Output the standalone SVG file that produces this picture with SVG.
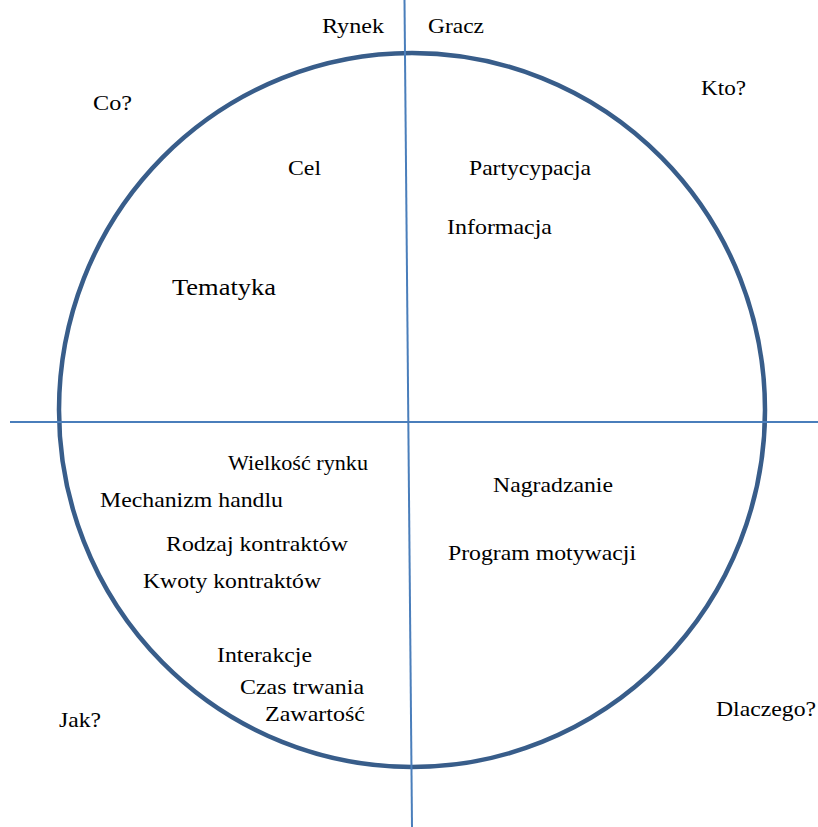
<svg xmlns="http://www.w3.org/2000/svg" width="818" height="827" viewBox="0 0 818 827">
<style>
  text { font-family: 'Liberation Serif', 'DejaVu Serif', 'Times New Roman', Times, serif; font-size: 21px; fill: #000; }
  .big { font-size: 24px; }
  .axis { stroke: #4a7ebb; stroke-width: 2; fill: none; }
  .ring { stroke: #385d8a; stroke-width: 4.5; fill: none; }
</style>
<rect width="818" height="827" fill="#fff"/>
<g id="circle"><ellipse class="ring" cx="412" cy="410" rx="353" ry="357"/></g>
<g id="connectors">
  <line class="axis" x1="404.5" y1="0" x2="412" y2="827"/>
  <line class="axis" x1="10" y1="422" x2="818" y2="422"/>
</g>
<g id="labels-outer">
  <text x="322" y="33" textLength="62" lengthAdjust="spacingAndGlyphs">Rynek</text>
  <text x="428" y="33" textLength="56" lengthAdjust="spacingAndGlyphs">Gracz</text>
  <text x="93" y="110" textLength="39" lengthAdjust="spacingAndGlyphs">Co?</text>
  <text x="701" y="95" textLength="45" lengthAdjust="spacingAndGlyphs">Kto?</text>
  <text x="59" y="727" textLength="42" lengthAdjust="spacingAndGlyphs">Jak?</text>
  <text x="716" y="716" textLength="100" lengthAdjust="spacingAndGlyphs">Dlaczego?</text>
</g>
<g id="q-co">
  <text x="288" y="175" textLength="33" lengthAdjust="spacingAndGlyphs">Cel</text>
  <text class="big" x="172" y="295" textLength="104" lengthAdjust="spacingAndGlyphs">Tematyka</text>
</g>
<g id="q-kto">
  <text x="469" y="175" textLength="122" lengthAdjust="spacingAndGlyphs">Partycypacja</text>
  <text x="447" y="234" textLength="105" lengthAdjust="spacingAndGlyphs">Informacja</text>
</g>
<g id="q-jak">
  <text x="228" y="470" textLength="140" lengthAdjust="spacingAndGlyphs">Wielkość rynku</text>
  <text x="100" y="507" textLength="183" lengthAdjust="spacingAndGlyphs">Mechanizm handlu</text>
  <text x="166" y="551" textLength="182" lengthAdjust="spacingAndGlyphs">Rodzaj kontraktów</text>
  <text x="143" y="588" textLength="178" lengthAdjust="spacingAndGlyphs">Kwoty kontraktów</text>
  <text x="217" y="662" textLength="95" lengthAdjust="spacingAndGlyphs">Interakcje</text>
  <text x="240" y="694" textLength="124" lengthAdjust="spacingAndGlyphs">Czas trwania</text>
  <text x="265" y="721" textLength="100" lengthAdjust="spacingAndGlyphs">Zawartość</text>
</g>
<g id="q-dlaczego">
  <text x="493" y="492" textLength="120" lengthAdjust="spacingAndGlyphs">Nagradzanie</text>
  <text x="448" y="560" textLength="188" lengthAdjust="spacingAndGlyphs">Program motywacji</text>
</g>
</svg>
